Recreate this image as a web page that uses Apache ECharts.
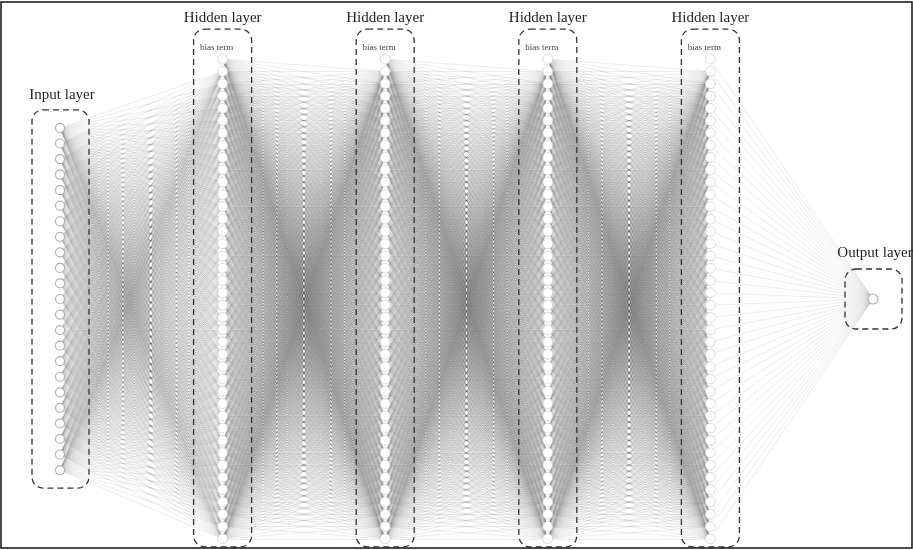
<!DOCTYPE html>
<html><head><meta charset="utf-8">
<script src="https://cdn.jsdelivr.net/npm/echarts@6/dist/echarts.min.js"></script>
<style>html,body{margin:0;padding:0;background:#fff}#c{width:913px;height:550px}</style>
</head><body><div id="c"></div>
<script>
// ---- data ----
const layerNames = ['Input layer', 'Hidden layer', 'Hidden layer', 'Hidden layer', 'Hidden layer', 'Output layer'];
const layerSizes = [23, 40, 40, 40, 40, 1];          // nodes per layer (hidden count includes bias node)
const layerHasBias = [false, true, true, true, true, false];
const biasLabel = 'bias term';

// ---- layout (styling) ----
const centerY = 299;
const nodeGap = [15.55, 12.3, 12.3, 12.3, 12.3, 0];
const boxPad = [ {l:28,r:29,t:18,b:18}, {l:29,r:29,t:30,b:8}, {l:29,r:29,t:30,b:8}, {l:29,r:29,t:30,b:8}, {l:29,r:29,t:30,b:8}, {l:28,r:29,t:30,b:30} ];

const nodes = [];
const layerIdx = [];
layerSizes.forEach((n, L) => {
  const arr = [];
  for (let i = 0; i < n; i++) {
    const y = centerY + (i - (n - 1) / 2) * nodeGap[L];
    arr.push(nodes.length);
    nodes.push({ value: [L, y], symbolSize: L === 0 ? 9 : 10,
      itemStyle: L === 0 || L === 5 ? { color: '#fff', borderColor: '#b0b0b0', borderWidth: 1.2 } : { color: '#fff', borderColor: '#d0d0d0', borderWidth: 0.8 } });
  }
  layerIdx.push(arr);
});
const links = [];
for (let L = 0; L < layerSizes.length - 1; L++) {
  const targets = layerHasBias[L + 1] ? layerIdx[L + 1].slice(1) : layerIdx[L + 1];
  layerIdx[L].forEach(s => targets.forEach(t => links.push({ source: s, target: t })));
}

const chart = echarts.init(document.getElementById('c'), null, { renderer: 'canvas' });
chart.setOption({
  animation: false,
  backgroundColor: '#fff',
  grid: { left: 0, right: 0, top: 0, bottom: 0 },
  xAxis: { type: 'value', min: -60 / 162.6, max: 5 + 40 / 162.6, show: false },
  yAxis: { type: 'value', min: 0, max: 550, inverse: true, show: false },
  series: [{
    type: 'graph',
    coordinateSystem: 'cartesian2d',
    silent: true,
    data: nodes,
    links: links,
    symbol: 'circle',
    lineStyle: { color: '#484848', opacity: 0.17, width: 0.65, curveness: 0 },
    label: { show: false }
  }]
});

// decorations computed from axis positions
const g = [];
layerSizes.forEach((n, L) => {
  const top = chart.convertToPixel({ gridIndex: 0 }, [L, nodes[layerIdx[L][0]].value[1]]);
  const bot = chart.convertToPixel({ gridIndex: 0 }, [L, nodes[layerIdx[L][n - 1]].value[1]]);
  const p = boxPad[L];
  g.push({
    type: 'rect', silent: true, z: 10,
    shape: { x: top[0] - p.l, y: top[1] - p.t, width: p.l + p.r, height: bot[1] - top[1] + p.t + p.b, r: 11 },
    style: { fill: 'none', stroke: '#333', lineWidth: 1.3, lineDash: [6, 4] }
  });
  g.push({
    type: 'text', silent: true, z: 10,
    x: top[0] + (L === 0 ? 2 : L === 5 ? 2 : 0), y: top[1] - p.t - (L === 0 ? 15 : L === 5 ? 16 : 11),
    style: { text: layerNames[L], font: '15px "Liberation Serif", serif', fill: '#222', align: 'center', verticalAlign: 'middle' }
  });
  if (layerHasBias[L]) {
    g.push({
      type: 'text', silent: true, z: 10,
      x: top[0] - 6, y: top[1] - 12,
      style: { text: biasLabel, font: '9px "Liberation Serif", serif', fill: '#444', align: 'center', verticalAlign: 'middle' }
    });
  }
});
g.push({ type: 'rect', silent: true, z: 20, shape: { x: 1, y: 2, width: 911, height: 546 }, style: { fill: 'none', stroke: '#111', lineWidth: 1.5 } });
chart.setOption({ graphic: g });
</script></body></html>
